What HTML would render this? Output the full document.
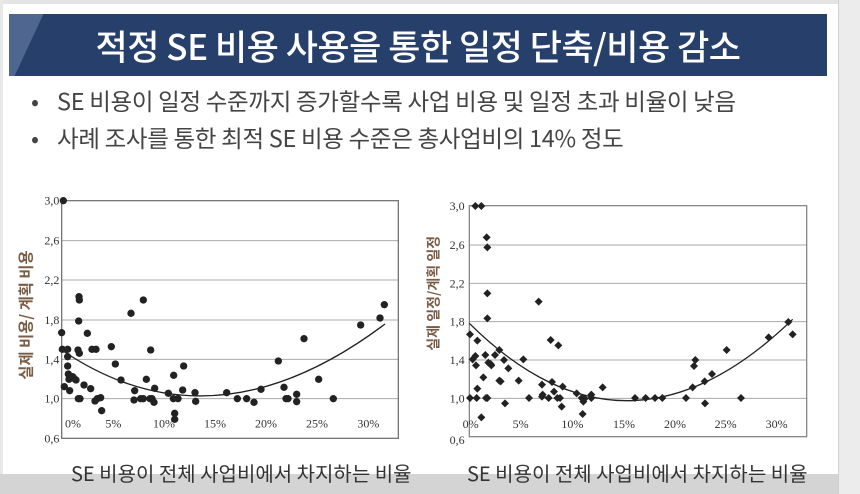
<!DOCTYPE html>
<html><head><meta charset="utf-8"><style>
html,body{margin:0;padding:0;}
body{width:860px;height:494px;position:relative;overflow:hidden;background:#fff;font-family:"Liberation Sans","Noto Sans CJK KR",sans-serif;}
.frame-top{position:absolute;left:0;top:0;width:860px;height:4px;background:#e4e4e4;}
.frame-right{position:absolute;left:838px;top:0;width:22px;height:494px;background:#ececec;border-left:1px solid #d0d0d0;}
.frame-left{position:absolute;left:0;top:0;width:3px;height:494px;background:#e8e8e8;}
.bottom{position:absolute;left:0;top:474px;width:860px;height:20px;background:#d4d4d4;}
.title{position:absolute;left:9px;top:14px;width:818px;height:62px;background:#263f6b;overflow:hidden;}
.title .stripe{position:absolute;left:-20px;top:0;width:40px;height:62px;background:#4f6690;transform:skewX(-25deg);}
.title span{position:absolute;left:0;width:100%;top:6px;text-align:center;color:#fff;font-size:35px;font-family:"Noto Sans CJK KR",sans-serif;font-weight:500;letter-spacing:-0.5px;}
.b{position:absolute;left:31px;font-size:23.5px;color:#444;font-family:"Noto Sans CJK KR",sans-serif;white-space:nowrap;letter-spacing:-0.3px;}
.b i{font-style:normal;display:inline-block;width:26px;}
.xt{position:absolute;font-size:20px;color:#333;font-family:"Noto Sans CJK KR",sans-serif;white-space:nowrap;}
svg{position:absolute;}
</style></head><body>
<div class="frame-top"></div><div class="frame-left"></div>
<div class="bottom"></div>
<div class="title"><div class="stripe"></div><span>적정 SE 비용 사용을 통한 일정 단축/비용 감소</span></div>
<div class="b" style="top:83px"><i>•</i>SE 비용이 일정 수준까지 증가할수록 사업 비용 및 일정 초과 비율이 낮음</div>
<div class="b" style="top:120px"><i>•</i>사례 조사를 통한 최적 SE 비용 수준은 총사업비의 14% 정도</div>

<svg style="left:0;top:180px" width="430" height="290" viewBox="0 0 1290 870">
<g stroke="#aaa" stroke-width="3"><line x1="185" y1="182" x2="1195" y2="182"/><line x1="185" y1="300" x2="1195" y2="300"/><line x1="185" y1="420" x2="1195" y2="420"/><line x1="185" y1="538" x2="1195" y2="538"/><line x1="185" y1="656" x2="1195" y2="656"/></g>
<rect x="185" y="62" width="1010" height="713" fill="none" stroke="#777" stroke-width="4"/>
<g font-family="Liberation Serif,serif" font-size="36" fill="#333" text-anchor="end">
<text x="178" y="74">3,0</text><text x="178" y="194">2,6</text><text x="178" y="312">2,2</text><text x="178" y="432">1,8</text><text x="178" y="550">1,4</text><text x="178" y="668">1,0</text><text x="178" y="787">0,6</text></g>
<g font-family="Liberation Serif,serif" font-size="36" fill="#333" text-anchor="middle">
<text x="219" y="742">0%</text><text x="340" y="742">5%</text><text x="492" y="742">10%</text><text x="645" y="742">15%</text><text x="798" y="742">20%</text><text x="951" y="742">25%</text><text x="1105" y="742">30%</text></g>
<text transform="translate(94,405) rotate(-90)" text-anchor="middle" font-family="Noto Sans CJK KR,sans-serif" font-size="46" font-weight="bold" fill="#7a5c45">실제 비용/ 계획 비용</text>
<g fill="#222">
<circle cx="190" cy="62" r="11"/><circle cx="185" cy="458" r="11"/><circle cx="187" cy="508" r="11"/><circle cx="193" cy="620" r="11"/><circle cx="203" cy="508" r="11"/><circle cx="203" cy="530" r="11"/><circle cx="203" cy="558" r="11"/><circle cx="205" cy="582" r="11"/><circle cx="207" cy="598" r="11"/><circle cx="209" cy="632" r="11"/><circle cx="218" cy="590" r="11"/><circle cx="222" cy="595" r="11"/><circle cx="228" cy="600" r="11"/><circle cx="235" cy="656" r="11"/><circle cx="240" cy="656" r="11"/><circle cx="237" cy="350" r="11"/><circle cx="238" cy="360" r="11"/><circle cx="236" cy="423" r="11"/><circle cx="234" cy="510" r="11"/><circle cx="238" cy="520" r="11"/><circle cx="252" cy="615" r="11"/><circle cx="262" cy="460" r="11"/><circle cx="272" cy="626" r="11"/><circle cx="276" cy="508" r="11"/><circle cx="288" cy="508" r="11"/><circle cx="285" cy="663" r="11"/><circle cx="292" cy="656" r="11"/><circle cx="302" cy="653" r="11"/><circle cx="305" cy="692" r="11"/><circle cx="334" cy="500" r="11"/><circle cx="346" cy="552" r="11"/><circle cx="363" cy="600" r="11"/><circle cx="393" cy="400" r="11"/><circle cx="404" cy="632" r="11"/><circle cx="402" cy="660" r="11"/><circle cx="430" cy="360" r="11"/><circle cx="422" cy="656" r="11"/><circle cx="430" cy="656" r="11"/><circle cx="439" cy="598" r="11"/><circle cx="450" cy="656" r="11"/><circle cx="452" cy="510" r="11"/><circle cx="456" cy="656" r="11"/><circle cx="462" cy="667" r="11"/><circle cx="464" cy="625" r="11"/><circle cx="505" cy="640" r="11"/><circle cx="521" cy="586" r="11"/><circle cx="520" cy="656" r="11"/><circle cx="524" cy="700" r="11"/><circle cx="524" cy="718" r="11"/><circle cx="534" cy="656" r="11"/><circle cx="548" cy="630" r="11"/><circle cx="551" cy="558" r="11"/><circle cx="585" cy="638" r="11"/><circle cx="587" cy="664" r="11"/><circle cx="680" cy="638" r="11"/><circle cx="712" cy="656" r="11"/><circle cx="740" cy="656" r="11"/><circle cx="762" cy="667" r="11"/><circle cx="783" cy="628" r="11"/><circle cx="835" cy="543" r="11"/><circle cx="852" cy="622" r="11"/><circle cx="858" cy="656" r="11"/><circle cx="864" cy="656" r="11"/><circle cx="890" cy="643" r="11"/><circle cx="890" cy="665" r="11"/><circle cx="912" cy="476" r="11"/><circle cx="956" cy="598" r="11"/><circle cx="1000" cy="656" r="11"/><circle cx="1082" cy="435" r="11"/><circle cx="1140" cy="414" r="11"/><circle cx="1153" cy="374" r="11"/>
</g>
<path d="M185,510 Q640,820 1155,432" fill="none" stroke="#222" stroke-width="4"/>
</svg>

<svg style="left:420px;top:180px" width="420" height="290" viewBox="0 0 1260 870">
<g stroke="#aaa" stroke-width="3"><line x1="148" y1="195" x2="1160" y2="195"/><line x1="148" y1="310" x2="1160" y2="310"/><line x1="148" y1="425" x2="1160" y2="425"/><line x1="148" y1="540" x2="1160" y2="540"/><line x1="148" y1="655" x2="1160" y2="655"/></g>
<rect x="148" y="77" width="1012" height="693" fill="none" stroke="#888" stroke-width="4"/>
<g font-family="Liberation Serif,serif" font-size="36" fill="#333" text-anchor="end">
<text x="134" y="90">3,0</text><text x="134" y="207">2,6</text><text x="134" y="322">2,2</text><text x="134" y="437">1,8</text><text x="134" y="552">1,4</text><text x="134" y="667">1,0</text><text x="134" y="792">0,6</text></g>
<g font-family="Liberation Serif,serif" font-size="36" fill="#333" text-anchor="middle">
<text x="152" y="744">0%</text><text x="302" y="744">5%</text><text x="457" y="744">10%</text><text x="612" y="744">15%</text><text x="765" y="744">20%</text><text x="917" y="744">25%</text><text x="1070" y="744">30%</text></g>
<text transform="translate(56,340) rotate(-90)" text-anchor="middle" font-family="Noto Sans CJK KR,sans-serif" font-size="42" font-weight="bold" fill="#7a5c45">실제 일정/계획 일정</text>
<g fill="#222">
<path d="M166,66l12,12-12,12-12-12z"/><path d="M184,66l12,12-12,12-12-12z"/><path d="M200,160l12,12-12,12-12-12z"/><path d="M202,190l12,12-12,12-12-12z"/><path d="M202,328l12,12-12,12-12-12z"/><path d="M202,403l12,12-12,12-12-12z"/><path d="M150,451l12,12-12,12-12-12z"/><path d="M158,526l12,12-12,12-12-12z"/><path d="M166,516l12,12-12,12-12-12z"/><path d="M168,544l12,12-12,12-12-12z"/><path d="M170,642l12,12-12,12-12-12z"/><path d="M172,614l12,12-12,12-12-12z"/><path d="M150,642l12,12-12,12-12-12z"/><path d="M172,470l12,12-12,12-12-12z"/><path d="M184,700l12,12-12,12-12-12z"/><path d="M190,580l12,12-12,12-12-12z"/><path d="M196,513l12,12-12,12-12-12z"/><path d="M198,642l12,12-12,12-12-12z"/><path d="M202,642l12,12-12,12-12-12z"/><path d="M205,536l12,12-12,12-12-12z"/><path d="M212,540l12,12-12,12-12-12z"/><path d="M214,544l12,12-12,12-12-12z"/><path d="M225,513l12,12-12,12-12-12z"/><path d="M238,498l12,12-12,12-12-12z"/><path d="M238,590l12,12-12,12-12-12z"/><path d="M242,592l12,12-12,12-12-12z"/><path d="M252,528l12,12-12,12-12-12z"/><path d="M255,658l12,12-12,12-12-12z"/><path d="M265,553l12,12-12,12-12-12z"/><path d="M296,590l12,12-12,12-12-12z"/><path d="M310,526l12,12-12,12-12-12z"/><path d="M327,642l12,12-12,12-12-12z"/><path d="M356,353l12,12-12,12-12-12z"/><path d="M366,602l12,12-12,12-12-12z"/><path d="M366,638l12,12-12,12-12-12z"/><path d="M368,632l12,12-12,12-12-12z"/><path d="M386,642l12,12-12,12-12-12z"/><path d="M392,468l12,12-12,12-12-12z"/><path d="M396,594l12,12-12,12-12-12z"/><path d="M402,623l12,12-12,12-12-12z"/><path d="M412,642l12,12-12,12-12-12z"/><path d="M415,484l12,12-12,12-12-12z"/><path d="M420,642l12,12-12,12-12-12z"/><path d="M425,668l12,12-12,12-12-12z"/><path d="M428,608l12,12-12,12-12-12z"/><path d="M470,628l12,12-12,12-12-12z"/><path d="M485,642l12,12-12,12-12-12z"/><path d="M488,690l12,12-12,12-12-12z"/><path d="M490,653l12,12-12,12-12-12z"/><path d="M494,644l12,12-12,12-12-12z"/><path d="M514,632l12,12-12,12-12-12z"/><path d="M514,642l12,12-12,12-12-12z"/><path d="M548,610l12,12-12,12-12-12z"/><path d="M645,642l12,12-12,12-12-12z"/><path d="M677,642l12,12-12,12-12-12z"/><path d="M705,642l12,12-12,12-12-12z"/><path d="M727,642l12,12-12,12-12-12z"/><path d="M798,642l12,12-12,12-12-12z"/><path d="M818,610l12,12-12,12-12-12z"/><path d="M822,546l12,12-12,12-12-12z"/><path d="M826,528l12,12-12,12-12-12z"/><path d="M854,592l12,12-12,12-12-12z"/><path d="M855,658l12,12-12,12-12-12z"/><path d="M876,570l12,12-12,12-12-12z"/><path d="M920,498l12,12-12,12-12-12z"/><path d="M963,642l12,12-12,12-12-12z"/><path d="M1046,460l12,12-12,12-12-12z"/><path d="M1105,414l12,12-12,12-12-12z"/><path d="M1118,451l12,12-12,12-12-12z"/>
</g>
<path d="M148,430 Q620,900 1118,418" fill="none" stroke="#222" stroke-width="4"/>
</svg>

<div class="xt" style="left:71px;top:458px">SE 비용이 전체 사업비에서 차지하는 비율</div>
<div class="xt" style="left:467px;top:458px">SE 비용이 전체 사업비에서 차지하는 비율</div>
<div class="frame-right"></div>
</body></html>
